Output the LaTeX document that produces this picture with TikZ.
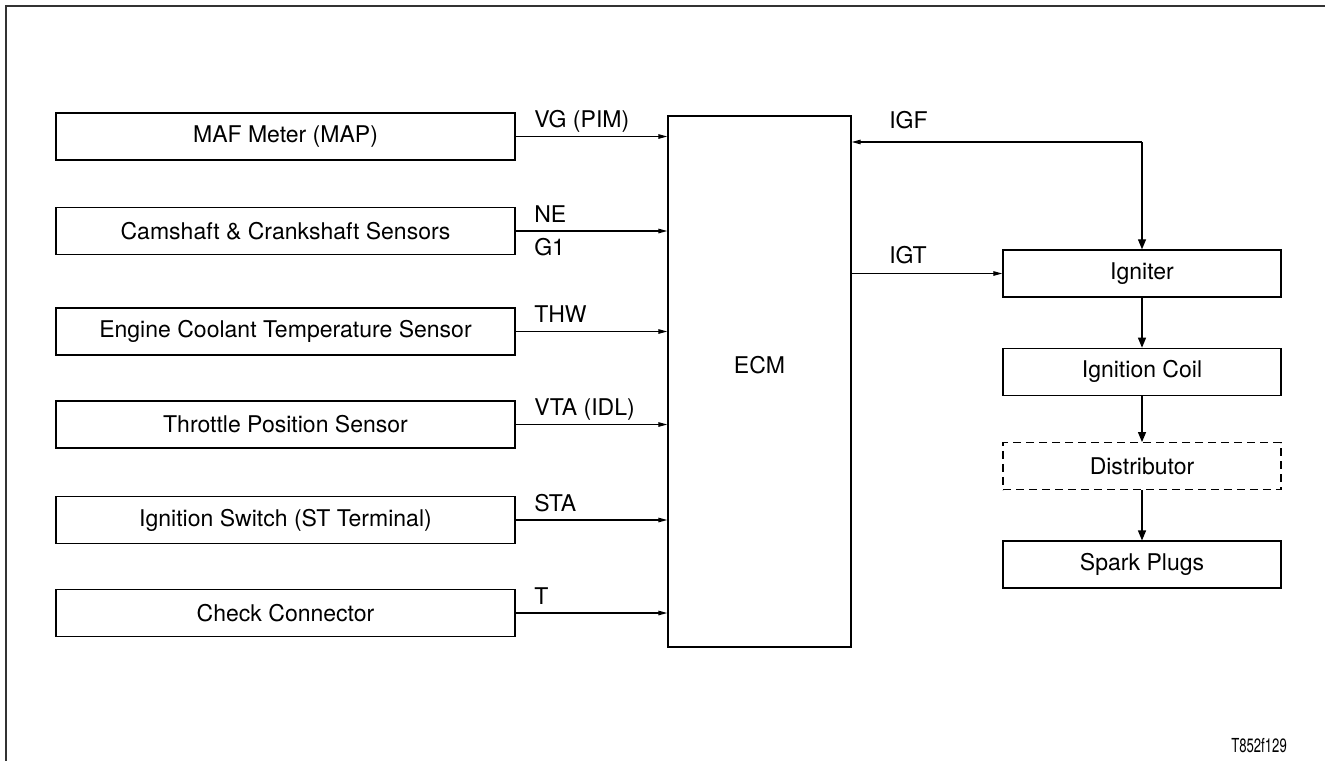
\documentclass[tikz,border=0pt]{standalone}
\usepackage{fontspec}
\setmainfont{TeX Gyre Heros}
\usepackage{graphicx}
\usetikzlibrary{positioning,arrows.meta}

\begin{document}
\begin{tikzpicture}[x=0.02cm, y=-0.02cm,
    inbox/.style={rectangle, draw=black, line width=0.8pt,
                  minimum width=9.18cm, minimum height=0.94cm,
                  font=\fontsize{13.1}{15}\selectfont},
    outbox/.style={rectangle, draw=black, line width=0.8pt,
                  minimum width=5.56cm, minimum height=0.94cm,
                  font=\fontsize{13.1}{15}\selectfont},
    ecmbox/.style={rectangle, draw=black, line width=0.8pt,
                  minimum width=3.66cm, minimum height=10.62cm},
    lbl/.style={inner sep=0pt, font=\fontsize{13.1}{15}\selectfont},
    sig/.style={-{Triangle[length=1.8mm,width=0.9mm]}, line width=0.7pt},
    chainarrow/.style={-{Triangle[length=2mm,width=1.6mm]}, line width=0.7pt}
]
    \useasboundingbox (0,0) rectangle (1325,761);
    \draw[line width=0.9pt, black!80] (1325,6) -- (6,6) -- (6,761);

    % sensors
    \node[inbox] (maf)   at (285.5,136.5) {MAF Meter (MAP)};
    \node[inbox] (cam)   at (285.5,231)   {Camshaft \& Crankshaft Sensors};
    \node[inbox] (ect)   at (285.5,331.5) {Engine Coolant Temperature Sensor};
    \node[inbox] (tps)   at (285.5,424.5) {Throttle Position Sensor};
    \node[inbox] (igsw)  at (285.5,520)   {Ignition Switch (ST Terminal)};
    \node[inbox] (chk)   at (285.5,613)   {Check Connector};

    \node[ecmbox, label={[lbl, yshift=0.33cm]center:ECM}] (ecm) at (759.5,381.5) {};

    % ignition side
    \node[outbox] (igniter) at (1142,273.5) {Igniter};
    \node[outbox, below=1cm of igniter] (coil) {Ignition Coil};
    \node[outbox, below=0.92cm of coil, dash pattern=on 1.6mm off 1mm] (dist) {Distributor};
    \node[outbox, below=1cm of dist] (plugs) {Spark Plugs};
    \coordinate (igfturn) at (1142,142);

    \draw[sig] (maf.east) -- (maf.east -| ecm.west)
        node[lbl, pos=0, anchor=base west, xshift=0.36cm, yshift=0.18cm] {VG (PIM)};
    \draw[sig] (cam.east) -- (cam.east -| ecm.west)
        node[lbl, pos=0, anchor=base west, xshift=0.36cm, yshift=0.18cm] {NE}
        node[lbl, pos=0, anchor=north west, xshift=0.36cm, yshift=-0.14cm] {G1};
    \draw[sig] (ect.east) -- (ect.east -| ecm.west)
        node[lbl, pos=0, anchor=base west, xshift=0.36cm, yshift=0.18cm] {THW};
    \draw[sig] (tps.east) -- (tps.east -| ecm.west)
        node[lbl, pos=0, anchor=base west, xshift=0.36cm, yshift=0.18cm] {VTA (IDL)};
    \draw[sig] (igsw.east) -- (igsw.east -| ecm.west)
        node[lbl, pos=0, anchor=base west, xshift=0.36cm, yshift=0.18cm] {STA};
    \draw[sig] (chk.east) -- (chk.east -| ecm.west)
        node[lbl, pos=0, anchor=base west, xshift=0.36cm, yshift=0.18cm] {T};

    \draw[sig] (igfturn) -- (igfturn -| ecm.east)
        node[lbl, pos=1, anchor=base west, xshift=0.74cm, yshift=0.28cm] {IGF};
    \draw[chainarrow] (igfturn) -- (igniter.north);
    \draw[sig] (ecm.east |- igniter.west) -- (igniter.west)
        node[lbl, pos=0, anchor=base west, xshift=0.74cm, yshift=0.2cm] {IGT};

    \draw[chainarrow] (igniter) -- (coil);
    \draw[chainarrow] (coil) -- (dist);
    \draw[chainarrow] (dist) -- (plugs);

    \node[anchor=base east, font=\fontsize{11}{13}\selectfont] (code) at (1293,752)
        {\scalebox{0.68}[1]{T852f129}};
\end{tikzpicture}
\end{document}
